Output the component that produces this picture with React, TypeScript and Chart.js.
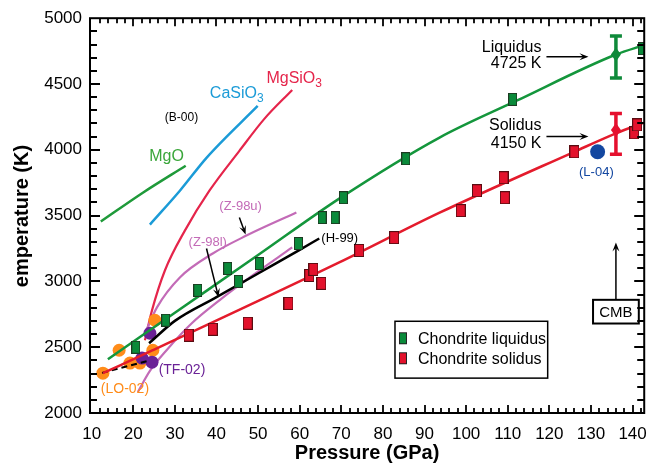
import { useEffect, useRef } from 'react';
import { Chart, registerables } from 'chart.js';
Chart.register(...registerables);

const FONT = '"Liberation Sans", Arial, Helvetica, sans-serif';

// Chondrite liquidus (green squares)
const liqP = [20.6, 27.8, 35.5, 42.7, 45.3, 50.3, 59.7, 65.4, 68.5, 70.5, 85.5, 111.2, 142.3];
const liqT = [2500, 2705, 2932, 3098, 3000, 3136, 3288, 3485, 3485, 3636, 3932, 4383, 4769];
// Chondrite solidus (red squares)
const solP = [33.3, 39.1, 47.5, 57.3, 62.3, 63.3, 65.2, 74.3, 82.7, 98.7, 102.6, 109.0, 109.3, 126.0, 140.4, 141.1];
const solT = [2591, 2636, 2682, 2833, 3045, 3091, 2985, 3235, 3333, 3538, 3689, 3788, 3636, 3985, 4129, 4189];
// Fitted liquidus / solidus curves
const liqFitP = [13.9, 30, 50, 69.5, 93.5, 112, 136, 142.8];
const liqFitT = [2409, 2762, 3200, 3629, 4091, 4371, 4724, 4796];
const solFitP = [12.7, 24.7, 69.5, 93.5, 126, 136, 142.6];
const solFitT = [2303, 2477, 3144, 3520, 3985, 4125, 4205];
// Melting curves of end-members (B-00)
const mgoP = [12.2, 22.3, 32.6];
const mgoT = [3455, 3674, 3879];
const casio3P = [24.0, 31.2, 37.6, 49.9];
const casio3T = [3432, 3689, 3939, 4333];
const mgsio3P = [22.8, 24.5, 27.6, 32.4, 38.3, 45.5, 51.5, 58.2];
const mgsio3T = [2553, 2780, 3083, 3386, 3689, 3992, 4235, 4455];
// Z-98 upper / lower
const z98uP = [22.8, 25.7, 31.2, 39.1, 47.2, 59.2];
const z98uT = [2606, 2803, 3030, 3212, 3348, 3523];
const z98lP = [21.1, 24, 28, 34, 40.7, 48, 58.2];
const z98lT = [2160, 2320, 2477, 2680, 2856, 3030, 3258];
// H-99
const h99P = [23.8, 30, 40, 50, 60, 64.7];
const h99T = [2530, 2700, 2880, 3060, 3240, 3326];
// LO-02 points and fit
const lo02P = [12.7, 16.6, 19.2, 21.6, 24.7, 25.2];
const lo02T = [2303, 2477, 2379, 2379, 2477, 2705];
const lo02FitP = [12.5, 24];
const lo02FitT = [2305, 2400];
// TF-02
const tf02P = [24.0, 22.1, 24.5];
const tf02T = [2606, 2417, 2386];
// L-04
const l04P = [131.6];
const l04T = [3985];
// CMB estimates (liquidus, solidus)
const cmbP = [136, 136];
const cmbT = [4725, 4150];
const cmbLow = [4545, 3967];
const cmbHigh = [4865, 4275];

// axis tick labels
const xTicks = [10, 20, 30, 40, 50, 60, 70, 80, 90, 100, 110, 120, 130, 140];
const yTicks = [2000, 2500, 3000, 3500, 4000, 4500, 5000];

const xy = (xs: number[], ys: number[]) => xs.map((x, i) => ({ x, y: ys[i] }));

function makeRect(fill: string, stroke: string, w: number, h: number) {
  const c = document.createElement('canvas');
  c.width = w + 2;
  c.height = h + 2;
  const g = c.getContext('2d')!;
  g.fillStyle = stroke;
  g.fillRect(0, 0, w + 2, h + 2);
  g.fillStyle = fill;
  g.fillRect(1, 1, w, h);
  return c;
}

function arrow(ctx: CanvasRenderingContext2D, x1: number, y1: number, x2: number, y2: number, color = '#000') {
  const a = Math.atan2(y2 - y1, x2 - x1);
  const hl = 9, hw = 3.5;
  ctx.save();
  ctx.strokeStyle = color;
  ctx.fillStyle = color;
  ctx.lineWidth = 1.5;
  ctx.beginPath();
  ctx.moveTo(x1, y1);
  ctx.lineTo(x2 - Math.cos(a) * hl * 0.6, y2 - Math.sin(a) * hl * 0.6);
  ctx.stroke();
  ctx.beginPath();
  ctx.moveTo(x2, y2);
  ctx.lineTo(x2 - Math.cos(a) * hl - Math.sin(a) * hw, y2 - Math.sin(a) * hl + Math.cos(a) * hw);
  ctx.lineTo(x2 - Math.cos(a) * hl * 0.6, y2 - Math.sin(a) * hl * 0.6);
  ctx.lineTo(x2 - Math.cos(a) * hl + Math.sin(a) * hw, y2 - Math.sin(a) * hl - Math.cos(a) * hw);
  ctx.closePath();
  ctx.fill();
  ctx.restore();
}

const annotPlugin = {
  id: 'annot',
  afterDatasetsDraw(chart: any) {
    const ctx: CanvasRenderingContext2D = chart.ctx;
    const xs = chart.scales.x, ys = chart.scales.y;
    const px = (v: number) => xs.getPixelForValue(v);
    const py = (v: number) => ys.getPixelForValue(v);

    // error bars at CMB
    const colors = ['#0f8a3a', '#e5102e'];
    for (let i = 0; i < cmbP.length; i++) {
      const x = px(cmbP[i]);
      const yl = py(cmbLow[i]), yh = py(cmbHigh[i]), yc = py(cmbT[i]);
      ctx.save();
      ctx.strokeStyle = colors[i];
      ctx.fillStyle = colors[i];
      ctx.lineWidth = 3.5;
      ctx.beginPath();
      ctx.moveTo(x, yl); ctx.lineTo(x, yh);
      ctx.moveTo(x - 6, yl); ctx.lineTo(x + 6, yl);
      ctx.moveTo(x - 6, yh); ctx.lineTo(x + 6, yh);
      ctx.stroke();
      ctx.beginPath();
      ctx.moveTo(x, yc - 7); ctx.lineTo(x + 5, yc); ctx.lineTo(x, yc + 7); ctx.lineTo(x - 5, yc);
      ctx.closePath();
      ctx.fill();
      ctx.restore();
    }

    // texts
    ctx.save();
    ctx.textBaseline = 'middle';
    ctx.fillStyle = '#000';
    ctx.font = `16px ${FONT}`;
    ctx.textAlign = 'right';
    ctx.fillText('Liquidus', px(118.1), py(4775));
    ctx.fillText('4725 K', px(118.1), py(4652));
    ctx.fillText('Solidus', px(118.1), py(4182));
    ctx.fillText('4150 K', px(118.1), py(4045));
    arrow(ctx, px(119.3), py(4707), px(129.4), py(4707));
    arrow(ctx, px(119.3), py(4101), px(129.4), py(4101));

    ctx.textAlign = 'center';
    ctx.font = `13px ${FONT}`;
    ctx.fillStyle = '#1347a0';
    ctx.fillText('(L-04)', px(131.3), py(3826));

    ctx.fillStyle = '#000';
    ctx.font = `12px ${FONT}`;
    ctx.fillText('(B-00)', px(31.6), py(4243));

    ctx.font = `16px ${FONT}`;
    ctx.fillStyle = '#3aa63a';
    ctx.fillText('MgO', px(28.0), py(3947));

    ctx.textAlign = 'left';
    ctx.fillStyle = '#1b9bd7';
    ctx.fillText('CaSiO', px(38.4), py(4424));
    let w = ctx.measureText('CaSiO').width;
    ctx.font = `12px ${FONT}`;
    ctx.fillText('3', px(38.4) + w, py(4424) + 5);

    ctx.font = `16px ${FONT}`;
    ctx.fillStyle = '#e5254b';
    ctx.fillText('MgSiO', px(52.0), py(4538));
    w = ctx.measureText('MgSiO').width;
    ctx.font = `12px ${FONT}`;
    ctx.fillText('3', px(52.0) + w, py(4538) + 5);

    ctx.font = `13px ${FONT}`;
    ctx.fillStyle = '#c36bb7';
    ctx.textAlign = 'center';
    ctx.fillText('(Z-98u)', px(45.8), py(3568));
    ctx.fillText('(Z-98l)', px(37.9), py(3295));
    arrow(ctx, px(45.5), py(3485), px(47.0), py(3356));
    arrow(ctx, px(37.6), py(3250), px(40.5), py(2879));

    ctx.textAlign = 'left';
    ctx.fillStyle = '#000';
    ctx.fillText('(H-99)', px(65.2), py(3326));
    ctx.fillStyle = '#6a2196';
    ctx.font = `14px ${FONT}`;
    ctx.fillText('(TF-02)', px(26.1), py(2326));
    ctx.fillStyle = '#ff8c1a';
    ctx.fillText('(LO-02)', px(12.2), py(2182));

    // CMB box + arrow
    const bx1 = px(130.5), bx2 = px(141.5), by1 = py(2860), by2 = py(2680);
    ctx.lineWidth = 2;
    ctx.strokeStyle = '#000';
    ctx.strokeRect(bx1, by1, bx2 - bx1, by2 - by1);
    ctx.fillStyle = '#000';
    ctx.font = `15px ${FONT}`;
    ctx.textAlign = 'center';
    ctx.fillText('CMB', (bx1 + bx2) / 2, (by1 + by2) / 2 + 1);
    arrow(ctx, px(136), by1, px(136), py(3295));

    // legend
    const lx1 = px(82.9), lx2 = px(119.6), ly1 = py(2697), ly2 = py(2265);
    ctx.lineWidth = 1.5;
    ctx.strokeRect(lx1, ly1, lx2 - lx1, ly2 - ly1);
    const items: [string, string][] = [['#0a8a3a', 'Chondrite liquidus'], ['#e3122c', 'Chondrite solidus']];
    ctx.font = `16px ${FONT}`;
    ctx.textAlign = 'left';
    items.forEach(([c, t], i) => {
      const yy = ly1 + 17 + i * 20;
      ctx.fillStyle = '#222';
      ctx.fillRect(lx1 + 4, yy - 6, 8, 12);
      ctx.fillStyle = c;
      ctx.fillRect(lx1 + 5, yy - 5, 6, 10);
      ctx.fillStyle = '#000';
      ctx.fillText(t, lx1 + 23, yy + 1);
    });
    ctx.restore();
  },
  afterDraw(chart: any) {
    const ctx: CanvasRenderingContext2D = chart.ctx;
    const xs = chart.scales.x, ys = chart.scales.y;
    const { left, right, top, bottom } = chart.chartArea;
    ctx.save();
    ctx.strokeStyle = '#000';
    ctx.lineWidth = 2;
    ctx.strokeRect(left, top, right - left, bottom - top);
    ctx.lineWidth = 1.8;
    ctx.beginPath();
    for (let v = 12; v <= 142; v += 2) {
      const x = Math.round(xs.getPixelForValue(v));
      const len = v % 10 === 0 ? 8 : 5;
      ctx.moveTo(x, bottom); ctx.lineTo(x, bottom - len);
      ctx.moveTo(x, top); ctx.lineTo(x, top + len);
    }
    for (let v = 2100; v < 5000; v += 100) {
      const y = Math.round(ys.getPixelForValue(v));
      const len = v % 500 === 0 ? 10 : 7;
      ctx.moveTo(left, y); ctx.lineTo(left + len, y);
      ctx.moveTo(right, y); ctx.lineTo(right - len, y);
    }
    ctx.stroke();

    ctx.fillStyle = '#000';
    ctx.textAlign = 'center';
    ctx.textBaseline = 'middle';
    ctx.font = `bold 20px ${FONT}`;
    ctx.fillText('Pressure (GPa)', (left + right) / 2, 453);
    ctx.translate(22, 216);
    ctx.rotate(-Math.PI / 2);
    ctx.font = `bold 20px ${FONT}`;
    ctx.fillText('emperature (K)', 0, 0);
    ctx.restore();
  },
};

export default function App() {
  const ref = useRef<HTMLCanvasElement>(null);
  useEffect(() => {
    const greenRect = makeRect('#0a8a3a', '#1d3a22', 7, 11);
    const redRect = makeRect('#e3122c', '#5a0d12', 8, 11);
    const line = (data: any, color: string, width: number, order: number, extra: any = {}) => ({
      data,
      showLine: true,
      borderColor: color,
      borderWidth: width,
      pointRadius: 0,
      cubicInterpolationMode: 'monotone',
      fill: false,
      order,
      ...extra,
    });
    const chart = new Chart(ref.current!, {
      type: 'scatter',
      data: {
        datasets: [
          { data: xy(liqP, liqT), pointStyle: greenRect as any, pointRadius: 6, order: 0 },
          { data: xy(solP, solT), pointStyle: redRect as any, pointRadius: 6, order: 0 },
          line(xy(liqFitP, liqFitT), '#14963c', 2.5, 1),
          line(xy(solFitP, solFitT), '#e41b2c', 2.5, 1),
          line(xy(lo02FitP, lo02FitT), '#000', 2, 1, { borderDash: [6, 4] }),
          line(xy(h99P, h99T), '#000', 2.5, 1),
          { data: xy(tf02P, tf02T), pointRadius: 6.5, backgroundColor: '#6a2196', borderWidth: 0, order: 2 },
          { data: xy(lo02P, lo02T), pointRadius: 6.5, backgroundColor: '#ff8c1a', borderWidth: 0, order: 2 },
          { data: xy(l04P, l04T), pointRadius: 7.5, backgroundColor: '#1347a0', borderWidth: 0, order: 2 },
          line(xy(z98uP, z98uT), '#c36bb7', 2.2, 3),
          line(xy(z98lP, z98lT), '#c36bb7', 2.2, 3),
          line(xy(mgsio3P, mgsio3T), '#e5254b', 2.2, 3),
          line(xy(casio3P, casio3T), '#1b9bd7', 2.5, 3),
          line(xy(mgoP, mgoT), '#1f9a3a', 2.5, 3),
        ] as any,
      },
      options: {
        animation: false,
        responsive: false,
        events: [],
        layout: { padding: { left: 0, top: 17, right: 12, bottom: 0 } },
        plugins: { legend: { display: false }, tooltip: { enabled: false } },
        scales: {
          x: {
            type: 'linear',
            min: 9.6,
            max: 142.8,
            grid: { display: false, drawTicks: false },
            border: { display: false },
            afterFit: (s: any) => { s.height = 53; },
            afterBuildTicks: (s: any) => { s.ticks = xTicks.map((v) => ({ value: v })); },
            ticks: { color: '#000', font: { size: 17, family: FONT }, padding: 11, maxRotation: 0, autoSkip: false, callback: (v: any) => String(v) },
          },
          y: {
            type: 'linear',
            min: 2000,
            max: 5000,
            grid: { display: false, drawTicks: false },
            border: { display: false },
            afterFit: (s: any) => { s.width = 90; },
            afterBuildTicks: (s: any) => { s.ticks = yTicks.map((v) => ({ value: v })); },
            ticks: { color: '#000', font: { size: 17, family: FONT }, padding: 8, callback: (v: any) => String(v) },
          },
        },
      },
      plugins: [annotPlugin],
    });
    return () => chart.destroy();
  }, []);
  return (
    <div style={{ position: 'absolute', left: 0, top: 0, width: 658, height: 466, background: '#fff' }}>
      <canvas ref={ref} width={658} height={466} />
    </div>
  );
}
